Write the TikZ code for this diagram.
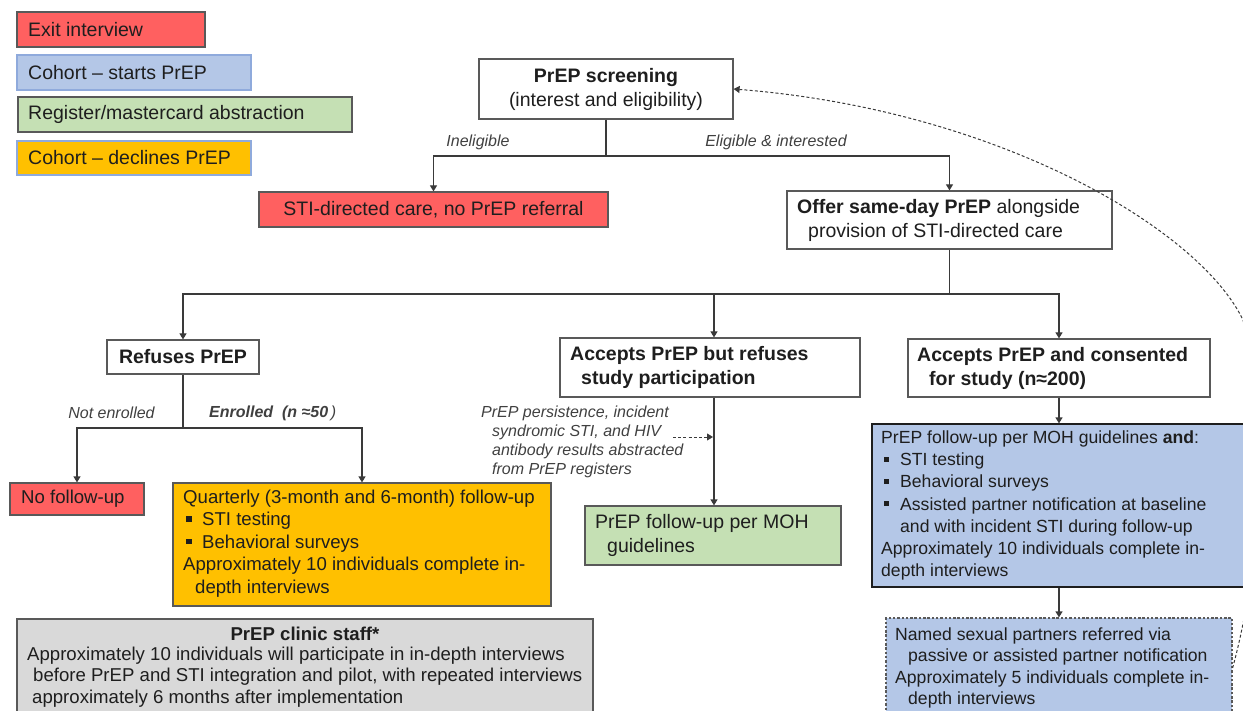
\documentclass[tikz,border=0pt]{standalone}
\usepackage{fontspec}
\setmainfont{Liberation Sans}
\usetikzlibrary{arrows.meta}
\definecolor{exitred}{HTML}{FF6060}
\definecolor{cblue}{HTML}{B4C7E7}
\definecolor{rgreen}{HTML}{C5E0B4}
\definecolor{dorange}{HTML}{FFC000}
\definecolor{sgray}{HTML}{D9D9D9}
\definecolor{lnc}{HTML}{3A3A3A}
\definecolor{bdr}{HTML}{595959}
\definecolor{lgbdr}{HTML}{8FAADC}
\definecolor{txt}{HTML}{1E1E1E}
\definecolor{lbc}{HTML}{404040}
\newcommand{\sqb}{\rule[0.22em]{0.3em}{0.3em}}
\newcommand{\fbig}{\fontsize{19.5}{24}\selectfont}
\newcommand{\fmid}{\fontsize{18.6}{22.4}\selectfont}
\newcommand{\fstaff}{\fontsize{18.6}{21.3}\selectfont}
\newcommand{\fsml}{\fontsize{17.6}{22.2}\selectfont}
\newcommand{\fdsh}{\fontsize{17.6}{21.4}\selectfont}
\newcommand{\flbl}{\fontsize{16}{19}\selectfont}
\newcommand{\bul}{\makebox[19pt][l]{\hspace*{3pt}\sqb}}
\begin{document}
\begin{tikzpicture}[x=1pt,y=-1pt,
  box/.style={draw=bdr, line width=1.2pt, inner sep=0pt, text=txt},
  tx/.style={inner sep=0pt, text=txt, align=left, anchor=west},
  lbl/.style={inner sep=0pt, text=lbc, font=\flbl\itshape},
  arr/.style={draw=lnc, line width=1.2pt, -{Triangle[length=6pt,width=7pt]}},
  ln/.style={draw=lnc, line width=1.2pt},
  darr/.style={draw=lnc, line width=1pt, dash pattern=on 3pt off 2.2pt, -{Triangle[length=6pt,width=7pt]}}]
\useasboundingbox (0,0) rectangle (1243,711);

% legend
\node[box, fill=exitred, draw=bdr, minimum width=188pt, minimum height=35pt] (l1) at (111,29.5) {};
\node[tx, font=\fbig] (l1t) at (28,29.5) {Exit interview};
\node[box, fill=cblue, draw=lgbdr, minimum width=234pt, minimum height=35pt] (l2) at (134,72.5) {};
\node[tx, font=\fbig] (l2t) at (28,72.5) {Cohort -- starts PrEP};
\node[box, fill=rgreen, draw=bdr, minimum width=334pt, minimum height=35pt] (l3) at (185,114.5) {};
\node[tx, font=\fbig] (l3t) at (28,114.5) {Register/mastercard abstraction};
\node[box, fill=dorange, draw=lgbdr, minimum width=234pt, minimum height=34pt] (l4) at (134,158) {};
\node[tx, font=\fbig] (l4t) at (28,158) {Cohort -- declines PrEP};

% main boxes
\node[box, fill=white, minimum width=254pt, minimum height=60pt, align=center, font=\fbig] (screen) at (606,89) {\textbf{PrEP screening}\\(interest and eligibility)};
\node[box, fill=exitred, minimum width=349pt, minimum height=35pt, font=\fbig] (sti) at (433.5,209.5) {STI-directed care, no PrEP referral};
\node[box, fill=white, minimum width=325pt, minimum height=58pt] (offer) at (949.5,220) {};
\node[tx, font=\fbig] (offert) at (797,220) {\textbf{Offer same-day PrEP} alongside\\\hspace*{11pt}provision of STI-directed care};

\node[box, fill=white, minimum width=152pt, minimum height=34pt, font=\fbig] (refuses) at (183,357) {\textbf{Refuses PrEP}};
\node[box, fill=white, minimum width=300pt, minimum height=59pt] (accref) at (710,367.5) {};
\node[tx, font=\fbig] (accreft) at (570,367.5) {\textbf{Accepts PrEP but refuses}\\\hspace*{11pt}\textbf{study participation}};
\node[box, fill=white, minimum width=302pt, minimum height=58pt] (acccon) at (1059,368) {};
\node[tx, font=\fbig] (accont) at (917,368) {\textbf{Accepts PrEP and consented}\\\hspace*{12pt}\textbf{for study (n≈200)}};

\node[box, fill=exitred, minimum width=134pt, minimum height=32pt] (nofu) at (77,499) {};
\node[tx, font=\fmid] (nofut) at (21,499) {No follow-up};

\node[box, fill=dorange, minimum width=378pt, minimum height=123pt] (quart) at (362,544.5) {};
\node[tx, font=\fmid] (quartt) at (183,543.5) {Quarterly (3-month and 6-month) follow-up\\
\bul STI testing\\
\bul Behavioral surveys\\
Approximately 10 individuals complete in-\\
\hspace*{12pt}depth interviews};

\node[box, fill=rgreen, minimum width=256pt, minimum height=59pt] (green) at (713,535.5) {};
\node[tx, font=\fbig] (greent) at (595,535.5) {PrEP follow-up per MOH\\\hspace*{12pt}guidelines};

\node[box, fill=cblue, draw=txt, minimum width=380pt, minimum height=163pt] (blue) at (1062,505.5) {};
\node[tx, font=\fsml] (bluet) at (881,505.5) {PrEP follow-up per MOH guidelines \textbf{and}:\\
\bul STI testing\\
\bul Behavioral surveys\\
\bul Assisted partner notification at baseline\\
\hspace*{19pt}and with incident STI during follow-up\\
Approximately 10 individuals complete in-\\
depth interviews};

\node[box, fill=cblue, dash pattern=on 2.5pt off 1.8pt, minimum width=346pt, minimum height=100pt] (dashbox) at (1059,668) {};
\node[tx, font=\fdsh] (dasht) at (895,668) {Named sexual partners referred via\\
\hspace*{13pt}passive or assisted partner notification\\
Approximately 5 individuals complete in-\\
\hspace*{13pt}depth interviews};

\node[box, fill=sgray, minimum width=576pt, minimum height=100pt] (staff) at (305,669) {};
\node[inner sep=0pt, text=txt, font=\fstaff] (stafft) at (305,634) {\textbf{PrEP clinic staff*}};
\node[tx, font=\fstaff] (staffb) at (27,677) {Approximately 10 individuals will participate in in-depth interviews\\
\hspace*{6pt}before PrEP and STI integration and pilot, with repeated interviews\\
\hspace*{5pt}approximately 6 months after implementation};

% labels
\node[lbl] (inel) at (478,142) {Ineligible};
\node[lbl] (elig) at (776,142) {Eligible \& interested};
\node[lbl] (noten) at (111.5,413) {Not enrolled};
\node[lbl, anchor=west] (enr) at (209,413) {{\bfseries Enrolled\ \ (n ≈50}\,)};
\node[lbl, anchor=west, align=left] (abs) at (481,441.5) {PrEP persistence, incident\\\hspace*{11pt}syndromic STI, and HIV\\\hspace*{11pt}antibody results abstracted\\\hspace*{11pt}from PrEP registers};

% connectors
\coordinate (j1) at (606,156);
\draw[ln] (screen.south) -- (j1);
\draw[arr] (j1) -| (sti.north);
\draw[arr] (j1) -| (offer.north);

\coordinate (j2) at (949.5,294);
\draw[ln] (offer.south) -- (j2);
\draw[arr] (j2) -| (refuses.north);
\draw[arr] (j2) -| ([xshift=4pt]accref.north);
\draw[arr] (j2) -| (acccon.north);

\coordinate (j3) at (183,428);
\draw[ln] (refuses.south) -- (j3);
\draw[arr] (j3) -| (nofu.north);
\draw[arr] (j3) -| (quart.north);

\draw[arr] ([xshift=4pt]accref.south) -- ([xshift=4pt]accref.south |- green.north);
\coordinate (ds) at (673,437);
\coordinate (de) at (713,437);
\draw[darr] (ds) -- (de);

\draw[arr] (acccon.south) -- (acccon.south |- blue.north);
\draw[arr] (acccon.south |- blue.south) -- (acccon.south |- dashbox.north);

\draw[darr] (dashbox.east) .. controls (1262,560) and (1268,420) .. (1243,320)
  .. controls (1200,230) and (1000,110) .. (screen.east);
\end{tikzpicture}
\end{document}
